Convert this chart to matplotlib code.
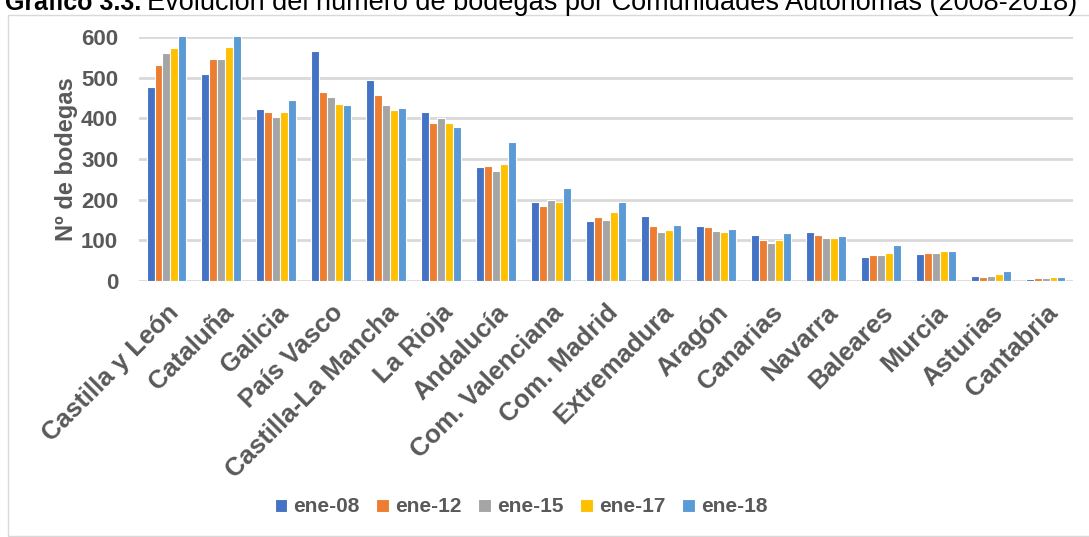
import numpy as np
import matplotlib.pyplot as plt
from matplotlib.patches import Rectangle

# ======================
# Datos
# ======================
comunidades = ["Castilla y León", "Cataluña", "Galicia", "País Vasco", "Castilla-La Mancha",
               "La Rioja", "Andalucía", "Com. Valenciana", "Com. Madrid", "Extremadura",
               "Aragón", "Canarias", "Navarra", "Baleares", "Murcia", "Asturias", "Cantabria"]
series = ["ene-08", "ene-12", "ene-15", "ene-17", "ene-18"]

ene_08 = [478, 508, 423, 565, 494, 415, 281, 194, 147, 160, 135, 112, 120, 59, 66, 12, 6]
ene_12 = [531, 545, 416, 464, 457, 388, 284, 184, 157, 135, 132, 100, 114, 63, 69, 11, 7]
ene_15 = [560, 545, 404, 452, 432, 400, 270, 198, 151, 120, 124, 94, 105, 64, 68, 13, 7]
ene_17 = [573, 575, 415, 435, 420, 388, 288, 195, 170, 125, 120, 100, 105, 68, 73, 16, 9]
ene_18 = [615, 615, 446, 432, 425, 379, 342, 229, 194, 137, 129, 118, 111, 89, 75, 25, 11]

colores = ["#4472C4", "#ED7D31", "#A5A5A5", "#FFC000", "#5B9BD5"]
gris = "#595959"
fuente = "Liberation Sans"

# ======================
# Vẽ
# ======================
fig = plt.figure(figsize=(10.89, 5.37), dpi=100)
ax = fig.add_axes([139 / 1089, 1 - 281 / 537, (1073 - 139) / 1089, (281 - 37) / 537])

# marco del gráfico
fig.patches.append(Rectangle((8 / 1089, 0.002), 1.2, (537 - 16) / 537, transform=fig.transFigure,
                             fill=False, edgecolor="#D9D9D9", linewidth=1))

x = np.arange(len(comunidades))
w = 0.145
datos = [ene_08, ene_12, ene_15, ene_17, ene_18]
for i, (nombre, vals) in enumerate(zip(series, datos)):
    ax.bar(x + (i - 2) * w, vals, width=w, color=colores[i], edgecolor="white",
           linewidth=0.8, label=nombre, zorder=3)

ax.set_ylim(0, 600)
ax.set_xlim(-0.5, len(comunidades) - 0.5)
ax.set_yticks([0, 100, 200, 300, 400, 500, 600])
ax.grid(axis="y", color="#D9D9D9", linewidth=2, zorder=0)
for s in ax.spines.values():
    s.set_visible(False)
ax.tick_params(length=0)
ax.set_yticklabels([str(v) for v in ax.get_yticks()], fontsize=16, fontweight="bold",
                   color=gris, family=fuente)
ax.set_xticks(x)
ax.set_xticklabels(comunidades, rotation=45, ha="right", rotation_mode="anchor",
                   fontsize=18.5, fontweight="bold", color=gris, family=fuente)
ax.tick_params(axis="x", pad=14)
ax.tick_params(axis="y", pad=15)
ax.set_ylabel("Nº de bodegas", fontsize=17, fontweight="bold", color=gris,
              family=fuente, labelpad=2)

fig.legend(loc="center", bbox_to_anchor=(521 / 1089, 1 - 507 / 537), ncol=5, frameon=False,
           prop={"family": fuente, "weight": "bold", "size": 15},
           labelcolor=gris, handlelength=0.6, handleheight=0.6, handletextpad=0.3,
           columnspacing=0.8)

fig.text(5 / 1089, 1 - 10 / 537, "Gráfico 3.3.", fontsize=18, fontweight="bold",
         family=fuente, va="baseline")
fig.text(147 / 1089, 1 - 10 / 537,
         "Evolución del número de bodegas por Comunidades Autónomas (2008-2018)",
         fontsize=19.5, family=fuente, va="baseline")

plt.savefig("out.png", dpi=100)
